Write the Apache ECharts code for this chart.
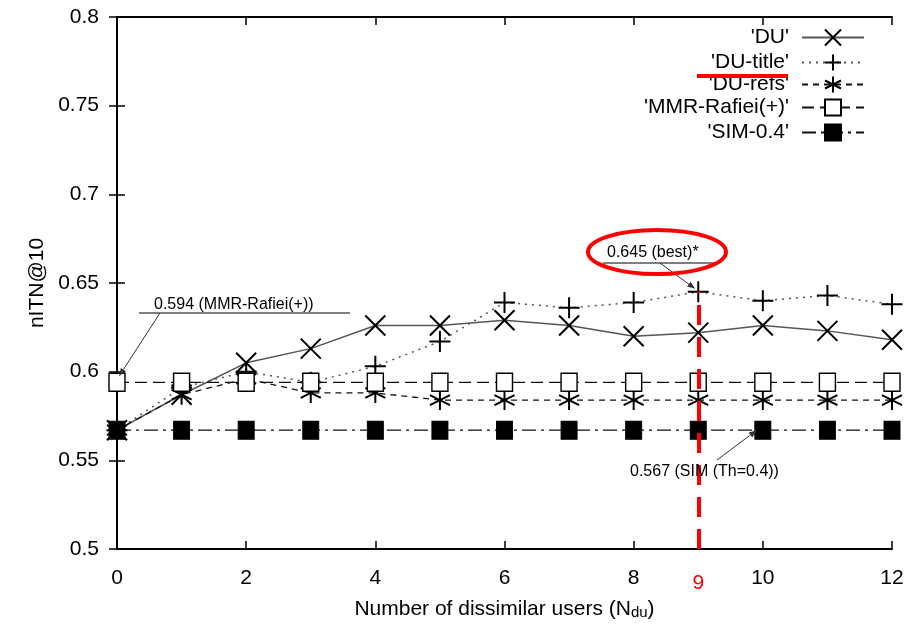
<!DOCTYPE html>
<html>
<head>
<meta charset="utf-8">
<script src="https://cdn.jsdelivr.net/npm/echarts@6/dist/echarts.min.js"></script>
<style>
  html, body { margin: 0; padding: 0; background: #fff; }
  #chart { width: 913px; height: 628px; }
</style>
</head>
<body>
<div id="chart"></div>
<script>
const FONT = 'Liberation Sans'

// data
const users = [0, 1, 2, 3, 4, 5, 6, 7, 8, 9, 10, 11, 12]
const du = [0.567, 0.587, 0.605, 0.613, 0.626, 0.626, 0.629, 0.626, 0.620, 0.622, 0.626, 0.623, 0.618]
const duTitle = [0.567, 0.591, 0.600, 0.594, 0.603, 0.617, 0.639, 0.636, 0.639, 0.645, 0.640, 0.643, 0.638]
const duRefs = [0.567, 0.587, 0.596, 0.588, 0.588, 0.584, 0.584, 0.584, 0.584, 0.584, 0.584, 0.584, 0.584]
const mmr = [0.594, 0.594, 0.594, 0.594, 0.594, 0.594, 0.594, 0.594, 0.594, 0.594, 0.594, 0.594, 0.594]
const sim = [0.567, 0.567, 0.567, 0.567, 0.567, 0.567, 0.567, 0.567, 0.567, 0.567, 0.567, 0.567, 0.567]
const seriesNames = ["'DU'", "'DU-title'", "'DU-refs'", "'MMR-Rafiei(+)'", "'SIM-0.4'"]
const xTicks = [0, 2, 4, 6, 8, 10, 12]
const xLabels = [0, 2, 4, 6, 8, 9, 10, 12]
const bestX = 9

const pairs = vals => users.map((u, i) => [u, vals[i]])

const CROSS = 'path://M0,0L10,10M10,0L0,10'
const PLUS = 'path://M5,0L5,10M0,5L10,5'
const STAR = 'path://M5,0L5,10M0.7,2.5L9.3,7.5M0.7,7.5L9.3,2.5'

const chart = echarts.init(document.getElementById('chart'))

const strokeMark = { color: '#000', borderColor: '#000', borderWidth: 2 }

const series = [
  {
    name: seriesNames[0], type: 'line', data: pairs(du),
    symbol: CROSS, symbolSize: 20,
    itemStyle: strokeMark,
    lineStyle: { color: '#555', width: 1.5, type: 'solid' },
  },
  {
    name: seriesNames[1], type: 'line', data: pairs(duTitle),
    symbol: PLUS, symbolSize: 21,
    itemStyle: strokeMark,
    lineStyle: { color: '#555', width: 1.5, type: [2, 5] },
  },
  {
    name: seriesNames[2], type: 'line', data: pairs(duRefs),
    symbol: STAR, symbolSize: 20,
    itemStyle: strokeMark,
    lineStyle: { color: '#111', width: 1.3, type: [6, 5] },
  },
  {
    name: seriesNames[3], type: 'line', data: pairs(mmr),
    symbol: 'rect', symbolSize: [16, 18],
    itemStyle: { color: '#fff', borderColor: '#000', borderWidth: 1.5 },
    lineStyle: { color: '#111', width: 1.3, type: [12, 6] },
  },
  {
    name: seriesNames[4], type: 'line', data: pairs(sim),
    symbol: 'rect', symbolSize: [16, 18],
    itemStyle: { color: '#000', borderColor: '#000', borderWidth: 1 },
    lineStyle: { color: '#111', width: 1.3, type: [14, 5, 3, 5] },
    markLine: {
      silent: true, symbol: 'none', animation: false,
      label: { show: false },
      lineStyle: { color: '#f00', width: 4, type: [20, 12] },
      data: [[{ coord: [bestX, 0.5] }, { coord: [bestX, duTitle[users.indexOf(bestX)]] }]],
    },
  },
]
series.forEach(s => { s.xAxisIndex = 0; s.yAxisIndex = 0; s.showAllSymbol = true; s.z = 3 })

const legendRows = [37, 62, 84, 107, 132]
const legend = seriesNames.map((n, i) => ({
  data: [n], orient: 'vertical', align: 'right', right: 48, top: legendRows[i] - 10,
  itemWidth: 62, itemHeight: 20, itemGap: 0, selectedMode: false, padding: 0,
  textStyle: { fontFamily: FONT, fontSize: 21, color: '#000', padding: [0, 8, 0, 0] },
}))

const axisLine = { show: true, lineStyle: { color: '#000', width: 2 } }
const inTick = { show: true, inside: true, length: 8, lineStyle: { color: '#000', width: 1.5 } }

chart.setOption({
  animation: false,
  backgroundColor: '#fff',
  grid: { left: 117, right: 21, top: 17, bottom: 79 },
  legend,
  xAxis: [
    {
      type: 'value', min: 0, max: 12, position: 'bottom',
      axisLine, splitLine: { show: false },
      axisTick: { ...inTick, customValues: xTicks },
      axisLabel: {
        customValues: xLabels, margin: 19,
        fontFamily: FONT, fontSize: 21, color: '#000',
        formatter: v => v === bestX ? '{r|' + v + '}' : '' + v,
        rich: { r: { color: '#f00', fontFamily: FONT, fontSize: 21, padding: [5, 0, 0, 0] } },
      },
      name: '{a|Number of dissimilar users (N}{s|du}{a|)}',
      nameLocation: 'middle', nameGap: 46,
      nameTextStyle: {
        rich: {
          a: { fontFamily: FONT, fontSize: 21, color: '#000', lineHeight: 24, verticalAlign: 'bottom' },
          s: { fontFamily: FONT, fontSize: 15, color: '#000', lineHeight: 20, verticalAlign: 'bottom' },
        },
      },
    },
    {
      type: 'value', min: 0, max: 12, position: 'top',
      axisLine, splitLine: { show: false },
      axisTick: { ...inTick, customValues: xTicks },
      axisLabel: { show: false },
    },
  ],
  yAxis: [
    {
      type: 'value', min: 0.5, max: 0.8, interval: 0.05, position: 'left',
      axisLine, splitLine: { show: false }, axisTick: inTick,
      axisLabel: { margin: 18, fontFamily: FONT, fontSize: 21, color: '#000' },
      name: 'nITN@10', nameLocation: 'middle', nameGap: 68, nameRotate: 90,
      nameTextStyle: { fontFamily: FONT, fontSize: 21, color: '#000' },
    },
    {
      type: 'value', min: 0.5, max: 0.8, interval: 0.05, position: 'right',
      axisLine, splitLine: { show: false }, axisTick: inTick,
      axisLabel: { show: false },
    },
  ],
  series,
})

// annotations
const px = (x, y) => chart.convertToPixel({ gridIndex: 0 }, [x, y])

function arrow(from, to, color) {
  const ang = Math.atan2(to[1] - from[1], to[0] - from[0])
  const L = 8, W = 3
  const bx = to[0] - L * Math.cos(ang), by = to[1] - L * Math.sin(ang)
  const nx = -Math.sin(ang) * W, ny = Math.cos(ang) * W
  return [
    { type: 'line', z: 10, shape: { x1: from[0], y1: from[1], x2: bx, y2: by }, style: { stroke: color, lineWidth: 1 } },
    { type: 'polygon', z: 10, shape: { points: [to, [bx + nx, by + ny], [bx - nx, by - ny]] }, style: { fill: color } },
  ]
}
function label(text, x, y, size) {
  return { type: 'text', z: 10, style: { text, x, y, font: size + 'px "' + FONT + '"', fill: '#000', align: 'left', verticalAlign: 'middle' } }
}
function hline(x1, x2, y, color, w) {
  return { type: 'line', z: 10, shape: { x1, y1: y, x2, y2: y }, style: { stroke: color, lineWidth: w } }
}

const pMmr = px(0, mmr[0])
const pBest = px(bestX, duTitle[users.indexOf(bestX)])
const pSim = px(10, sim[10])

const graphic = [
  label('0.594 (MMR-Rafiei(+))', 154, 305, 16),
  hline(139, 350, 313, '#555', 1.5),
  ...arrow([160, 313], [pMmr[0] + 2, pMmr[1] - 6], '#333'),
  label('0.645 (best)*', 607, 253, 16),
  hline(603, 717, 263, '#555', 1.5),
  ...arrow([660, 263], [pBest[0] - 3, pBest[1] - 3], '#333'),
  { type: 'ellipse', z: 11, shape: { cx: 657, cy: 252, rx: 69, ry: 22 }, style: { fill: 'none', stroke: '#f00', lineWidth: 4 } },
  label('0.567 (SIM (Th=0.4))', 630, 472, 16),
  ...arrow([717, 460], [pSim[0] - 6, pSim[1]], '#333'),
  hline(697, 788, 76, '#f00', 4),
]
chart.setOption({ graphic })
</script>
</body>
</html>
